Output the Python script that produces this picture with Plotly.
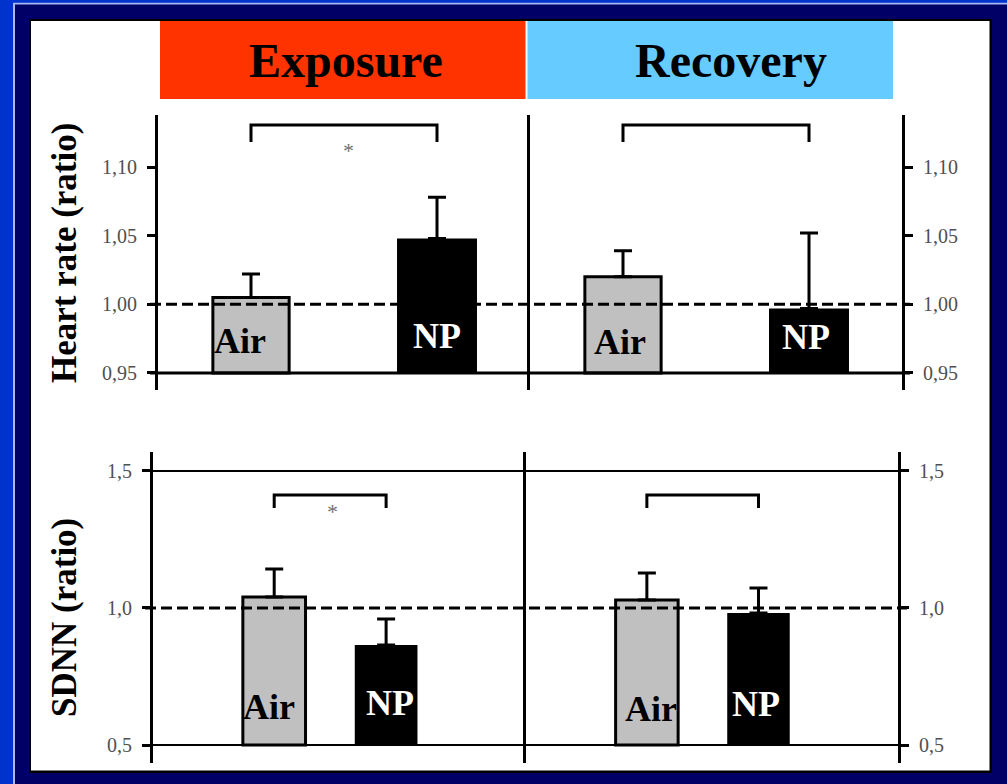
import numpy as np
import plotly.graph_objects as go

W, H = 1007, 784

# ---------------- data ----------------
categories = ["Air", "NP"]
phases = ["Exposure", "Recovery"]

hr_exposure = [1.005, 1.048]
hr_exposure_err = [0.017, 0.030]
hr_recovery = [1.020, 0.997]
hr_recovery_err = [0.019, 0.055]

sdnn_exposure = [1.040, 0.865]
sdnn_exposure_err = [0.102, 0.095]
sdnn_recovery = [1.029, 0.982]
sdnn_recovery_err = [0.099, 0.091]

hr_tickvals = [0.95, 1.00, 1.05, 1.10]
hr_ticktext = ["0,95", "1,00", "1,05", "1,10"]
sdnn_tickvals = [0.5, 1.0, 1.5]
sdnn_ticktext = ["0,5", "1,0", "1,5"]

significant = [True, False]  # exposure significant, recovery not
# ---------------------------------------

SERIF = "Liberation Serif"


def px(x):
    return x / W


def py(y):
    return 1 - y / H


fig = go.Figure()

panels = [
    # (values, errors, xaxis, yaxis, base, widths)
    (hr_exposure, hr_exposure_err, "x", "y", 0.95, [0.41, 0.43]),
    (hr_recovery, hr_recovery_err, "x2", "y2", 0.95, [0.41, 0.43]),
    (sdnn_exposure, sdnn_exposure_err, "x3", "y3", 0.5, [0.56, 0.56]),
    (sdnn_recovery, sdnn_recovery_err, "x4", "y4", 0.5, [0.56, 0.56]),
]

for vals, errs, xa, ya, base, widths in panels:
    v = np.array(vals)
    fig.add_trace(go.Bar(
        x=categories, y=v - base, base=base, width=widths,
        marker=dict(color=["#C0C0C0", "#000000"],
                    line=dict(color="black", width=[3, 0])),
        error_y=dict(type="data", symmetric=False, array=errs, arrayminus=[0, 0],
                     color="black", thickness=3, width=9),
        xaxis=xa, yaxis=ya, showlegend=False, hoverinfo="skip",
    ))

# significance brackets
brackets = [("x", "y", 1.1182, 1.1306), ("x2", "y2", 1.1182, 1.1306),
            ("x3", "y3", 1.365, 1.4124), ("x4", "y4", 1.365, 1.4124)]
for xa, ya, lo, hi in brackets:
    fig.add_trace(go.Scatter(
        x=[categories[0], categories[0], categories[1], categories[1]],
        y=[lo, hi, hi, lo], mode="lines",
        line=dict(color="black", width=3),
        xaxis=xa, yaxis=ya, showlegend=False, hoverinfo="skip",
    ))

tickfont = dict(family=SERIF, size=20, color="#505050")


def yax(domain, rng, tv, tt, side, mirror, anchor):
    return dict(domain=domain, range=rng, tickvals=tv, ticktext=tt, side=side,
                mirror=mirror, anchor=anchor, showline=True, linewidth=3,
                linecolor="black", ticks="outside", ticklen=8, tickwidth=3,
                tickcolor="black", tickfont=tickfont, showgrid=False,
                zeroline=False, ticklabelstandoff=6, fixedrange=True)


def xax(domain, rng, anchor):
    return dict(domain=domain, range=rng, visible=False, anchor=anchor,
                type="category", fixedrange=True)


top_dom = [py(390), py(115)]
bot_dom = [py(763), py(452)]
top_rng = [0.9376, 1.1379]
bot_rng = [0.4343, 1.5693]

fig.update_layout(
    width=W, height=H,
    margin=dict(l=0, r=0, t=0, b=0),
    paper_bgcolor="#0033CC",
    plot_bgcolor="rgba(0,0,0,0)",
    barmode="overlay",
    xaxis=xax([px(158), px(530)], [-0.5, 1.5], "y"),
    xaxis2=xax([px(530), px(902)], [-0.5, 1.5], "y2"),
    xaxis3=xax([px(153), px(526)], [-1.083, 2.25], "y3"),
    xaxis4=xax([px(526), px(898)], [-1.083, 2.25], "y4"),
    yaxis=yax(top_dom, top_rng, hr_tickvals, hr_ticktext, "left", False, "x"),
    yaxis2=yax(top_dom, top_rng, hr_tickvals, hr_ticktext, "right", True, "x2"),
    yaxis3=yax(bot_dom, bot_rng, sdnn_tickvals, sdnn_ticktext, "left", False, "x3"),
    yaxis4=yax(bot_dom, bot_rng, sdnn_tickvals, sdnn_ticktext, "right", True, "x4"),
)

DASH = dict(color="black", width=3, dash="11px,5px")

shapes = []
# frame
shapes.append(dict(type="rect", xref="paper", yref="paper", x0=px(13), x1=1.02,
                   y0=-0.02, y1=py(2.7), fillcolor="#A9B8F0", line_width=0, layer="below"))
shapes.append(dict(type="rect", xref="paper", yref="paper", x0=px(15), x1=1.02,
                   y0=-0.02, y1=py(4.5), fillcolor="#000066", line_width=0, layer="below"))
shapes.append(dict(type="rect", xref="paper", yref="paper", x0=px(29), x1=px(992),
                   y0=py(773), y1=py(19), fillcolor="#000000", line_width=0, layer="below"))
shapes.append(dict(type="rect", xref="paper", yref="paper", x0=px(31), x1=px(989.5),
                   y0=py(770.5), y1=py(21), fillcolor="#FFFFFF", line_width=0, layer="below"))
# headers
shapes.append(dict(type="rect", xref="paper", yref="paper", x0=px(160), x1=px(525.5),
                   y0=py(99), y1=py(21), fillcolor="#FF3300", line_width=0, layer="below"))
shapes.append(dict(type="rect", xref="paper", yref="paper", x0=px(527.5), x1=px(893),
                   y0=py(99), y1=py(21), fillcolor="#66CCFF", line_width=0, layer="below"))
# top panel baseline and reference line
shapes.append(dict(type="line", xref="paper", yref="y", x0=px(150), x1=px(910),
                   y0=hr_tickvals[0], y1=hr_tickvals[0], line=dict(color="black", width=3), layer="above"))
shapes.append(dict(type="line", xref="paper", yref="y", x0=px(150), x1=px(910),
                   y0=1.0, y1=1.0, line=DASH, layer="above"))
# bottom panel lines
for val in (sdnn_tickvals[0], sdnn_tickvals[-1]):
    shapes.append(dict(type="line", xref="paper", yref="y3", x0=px(145), x1=px(907),
                       y0=val, y1=val, line=dict(color="black", width=2), layer="above"))
shapes.append(dict(type="line", xref="paper", yref="y3", x0=px(145), x1=px(907),
                   y0=1.0, y1=1.0, line=DASH, layer="above"))
fig.update_layout(shapes=shapes)

ann = []
# headers
ann.append(dict(text="<b>" + phases[0] + "</b>", x=px(346), y=py(61), xref="paper", yref="paper",
                showarrow=False, font=dict(family=SERIF, size=48, color="black"),
                xanchor="center", yanchor="middle"))
ann.append(dict(text="<b>" + phases[1] + "</b>", x=px(731), y=py(61), xref="paper", yref="paper",
                showarrow=False, font=dict(family=SERIF, size=48, color="black"),
                xanchor="center", yanchor="middle"))
# y titles
ann.append(dict(text="<b>Heart rate (ratio)</b>", x=px(64), y=py(253), xref="paper", yref="paper",
                showarrow=False, textangle=-90, font=dict(family=SERIF, size=35, color="black"),
                xanchor="center", yanchor="middle"))
ann.append(dict(text="<b>SDNN (ratio)</b>", x=px(64), y=py(618), xref="paper", yref="paper",
                showarrow=False, textangle=-90, font=dict(family=SERIF, size=35, color="black"),
                xanchor="center", yanchor="middle"))

# bar labels
label_specs = [
    ("x", "y", 0.9733, 0.977, -11, 0),
    ("x2", "y2", 0.9725, 0.9765, -3, -3),
    ("x3", "y3", 0.6387, 0.653, -5, 4),
    ("x4", "y4", 0.630, 0.648, 4, -2),
]
for xa, ya, y_air, y_np, sh_air, sh_np in label_specs:
    ann.append(dict(text="<b>Air</b>", x=categories[0], y=y_air, xref=xa, yref=ya, showarrow=False,
                    font=dict(family=SERIF, size=36, color="black"), xshift=sh_air,
                    xanchor="center", yanchor="middle"))
    ann.append(dict(text="<b>NP</b>", x=categories[1], y=y_np, xref=xa, yref=ya, showarrow=False,
                    font=dict(family=SERIF, size=36, color="white"), xshift=sh_np,
                    xanchor="center", yanchor="middle"))

# asterisks for significant exposure differences
if significant[0]:
    ann.append(dict(text="*", x=px(348), y=py(150), xref="paper", yref="paper", showarrow=False,
                    font=dict(family=SERIF, size=22, color="#707070"), xanchor="center", yanchor="middle"))
    ann.append(dict(text="*", x=px(332), y=py(512), xref="paper", yref="paper", showarrow=False,
                    font=dict(family=SERIF, size=22, color="#707070"), xanchor="center", yanchor="middle"))

fig.update_layout(annotations=ann)

fig.write_html(
    "out.html",
    config={"displayModeBar": False},
    post_script="document.body.style.margin='0';document.body.style.overflow='hidden';",
)
